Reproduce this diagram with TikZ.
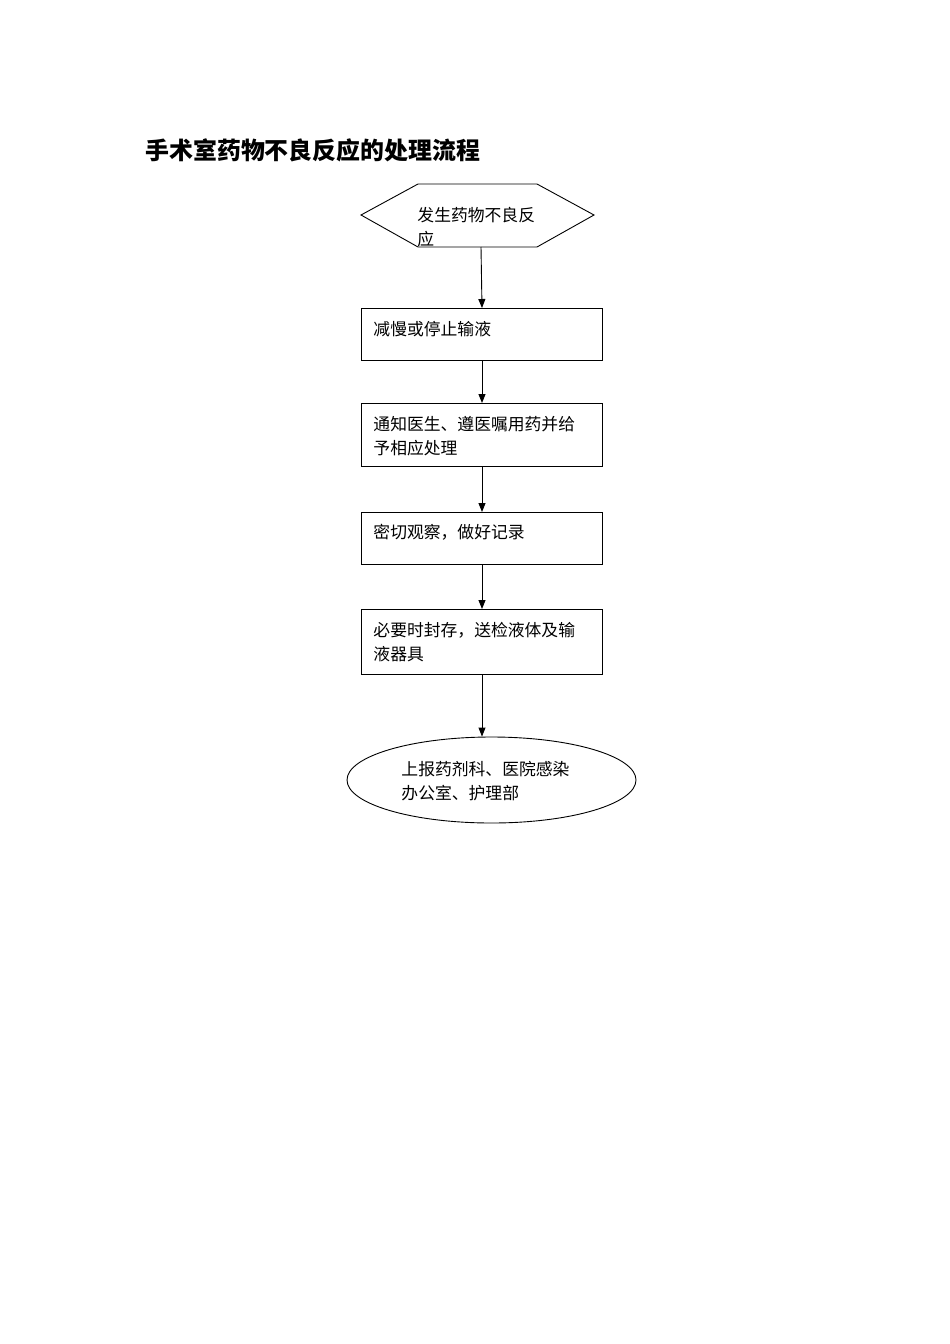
\documentclass[tikz,border=0pt]{standalone}
\usepackage{fontspec}
\newfontfamily\cjk{Noto Sans CJK SC}
\usetikzlibrary{arrows.meta,shapes.geometric,calc}
\begin{document}
\begin{tikzpicture}[x=1pt,y=-1pt,
  line width=0.9pt,
  box/.style={draw,line width=0.9pt,minimum width=241pt,inner sep=0pt,anchor=north west},
  txt/.style={inner sep=0pt,anchor=north west,align=left,font=\cjk\fontsize{16.8}{24}\selectfont},
  arr/.style={-{Triangle[width=7pt,length=9pt]},line width=0.9pt}]
\useasboundingbox[fill=white] (0,0) rectangle (950,1344);
% title
\node[inner sep=0pt,anchor=west,font=\cjk\bfseries\fontsize{23.9}{28}\selectfont] (title) at (145,150) {手术室药物不良反应的处理流程};
% hexagon
\draw (361,215) -- (418,184) -- (537,184) -- (594,215) -- (537,247) -- (418,247) -- cycle;
\coordinate (hexbot) at (481,247);
\node[txt] (t0) at (417,206.5) {发生药物不良反\\应};
% boxes
\node[box,minimum height=52pt] (b1) at (361,308) {};
\node[txt] (t1) at (373,320.5) {减慢或停止输液};
\node[box,minimum height=63pt] (b2) at (361,403) {};
\node[txt] (t2) at (373,415.5) {通知医生、遵医嘱用药并给\\予相应处理};
\node[box,minimum height=52pt] (b3) at (361,512) {};
\node[txt] (t3) at (373,523.5) {密切观察，做好记录};
\node[box,minimum height=65pt] (b4) at (361,609) {};
\node[txt] (t4) at (373,621.5) {必要时封存，送检液体及输\\液器具};
% ellipse
\node[draw,ellipse,minimum width=289pt,minimum height=86pt,inner sep=0pt,line width=0.9pt] (e) at (491.5,780) {};
\node[txt] (t5) at (401,760.5) {上报药剂科、医院感染\\办公室、护理部};
% arrows
\draw[arr] (hexbot) -- (b1.north -| 482,0);
\draw[arr] (b1.south -| 482,0) -- (b2.north -| 482,0);
\draw[arr] (b2.south -| 482,0) -- (b3.north -| 482,0);
\draw[arr] (b3.south -| 482,0) -- (b4.north -| 482,0);
\draw[arr] (b4.south -| 482,0) -- (e.north -| 482,0);
\end{tikzpicture}
\end{document}
